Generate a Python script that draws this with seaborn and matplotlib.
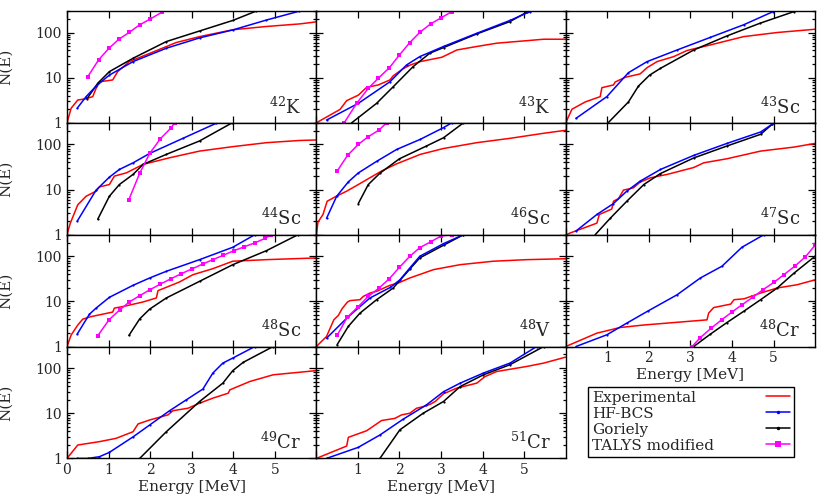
import matplotlib
matplotlib.use("Agg")
import matplotlib.pyplot as plt
import seaborn as sns
from matplotlib.lines import Line2D
from matplotlib.ticker import FixedLocator, FixedFormatter, LogLocator, NullFormatter

# ---------------- data (Energy [MeV], N(E)) ----------------
K42_EXP_E = [0, 0.1, 0.26, 0.45, 0.62, 0.7, 0.78, 1.1, 1.22, 1.5, 1.99, 2.63, 3.19, 3.99, 4.8, 5.6, 6.0]
K42_EXP_N = [1, 2.1, 3.2, 3.4, 3.8, 5.8, 8.1, 8.9, 13.6, 22.7, 34.5, 60, 81, 115, 136, 155, 172]
K42_HF_E = [0.245, 0.46, 0.7, 1.02, 1.59, 2.39, 3.19, 3.99, 4.8, 5.58]
K42_HF_N = [2.1, 3.8, 6.5, 11.4, 22.7, 44.8, 76, 114, 189, 295]
K42_GOR_E = [0.48, 0.74, 1.02, 1.59, 2.39, 3.19, 3.99, 4.56]
K42_GOR_N = [3.4, 7.5, 13.6, 26.9, 63, 108, 185, 300]
K42_TAL_E = [0.5, 0.76, 1.01, 1.25, 1.5, 1.75, 2.0, 2.28]
K42_TAL_N = [10.5, 24.7, 44.8, 71, 101, 148, 198, 280]

K43_EXP_E = [0, 0.57, 0.73, 1.01, 1.21, 1.49, 1.77, 1.85, 2.08, 2.26, 2.5, 3.02, 3.38, 3.86, 4.34, 5.07, 5.47, 6.0]
K43_EXP_N = [1, 1.98, 3.1, 4.1, 6.1, 6.9, 8.9, 11, 15.6, 19.1, 22.7, 28.3, 41, 49, 58, 66, 71, 71]
K43_HF_E = [0.245, 1.01, 1.77, 2.17, 2.49, 3.06, 3.86, 4.66, 5.14]
K43_HF_N = [1.15, 2.7, 8.1, 19.1, 29.3, 49, 96, 185, 290]
K43_GOR_E = [0.85, 1.45, 1.85, 2.33, 2.73, 3.06, 3.86, 4.66, 5.06]
K43_GOR_N = [1, 2.7, 6.3, 17.6, 34.8, 46.4, 93, 175, 280]
K43_TAL_E = [0.67, 0.97, 1.25, 1.49, 1.76, 2.0, 2.25, 2.49, 2.75, 2.99, 3.26]
K43_TAL_N = [1, 2.7, 5.8, 9.7, 16.7, 31.8, 60, 101, 155, 208, 290]

SC43_EXP_E = [0, 0.15, 0.47, 0.83, 0.87, 1.15, 1.19, 1.43, 1.79, 1.96, 2.2, 2.6, 2.92, 3.48, 4.28, 5.09, 6.0]
SC43_EXP_N = [1, 2.0, 2.9, 3.8, 6.0, 6.9, 8.0, 10.2, 12.1, 16.7, 22.7, 29.3, 40, 53, 81, 100, 118]
SC43_HF_E = [0.245, 0.99, 1.51, 1.96, 2.68, 3.48, 4.28, 4.99]
SC43_HF_N = [1.25, 3.8, 12.9, 22.7, 41, 78, 148, 290]
SC43_GOR_E = [1.02, 1.51, 1.75, 2.02, 2.28, 3.08, 3.88, 4.68, 5.49]
SC43_GOR_N = [1, 2.9, 6.5, 11.4, 16.1, 41, 84, 161, 290]

SC44_EXP_E = [0, 0.08, 0.26, 0.46, 0.7, 0.78, 1.02, 1.14, 1.43, 1.83, 2.47, 3.19, 3.99, 4.8, 5.6, 6.0]
SC44_EXP_N = [1, 1.8, 4.6, 7.1, 9.2, 11.4, 12.9, 19.8, 23.4, 36, 50.5, 71, 89, 109, 122, 125]
SC44_HF_E = [0.245, 0.7, 1.02, 1.26, 1.59, 1.99, 2.79, 3.59]
SC44_HF_N = [1.98, 9.7, 18.8, 27.8, 39, 63, 136, 293]
SC44_GOR_E = [0.74, 1.02, 1.26, 1.59, 1.83, 2.39, 3.19, 3.96]
SC44_GOR_N = [2.2, 7.1, 12.9, 21.6, 36, 60, 119, 295]
SC44_TAL_E = [1.49, 1.75, 1.99, 2.25, 2.51, 2.59]
SC44_TAL_N = [6.0, 23, 63, 134, 234, 300]

SC46_EXP_E = [0, 0.04, 0.16, 0.26, 0.48, 0.73, 1.01, 1.29, 1.57, 1.93, 2.5, 3.06, 3.86, 4.66, 5.47, 6.0]
SC46_EXP_N = [1, 1.9, 2.8, 5.5, 7.1, 9.2, 12.9, 18.2, 25.7, 37, 60, 81, 109, 136, 176, 205]
SC46_HF_E = [0.245, 0.49, 0.77, 1.01, 1.45, 1.93, 2.5, 3.06, 3.26]
SC46_HF_N = [2.3, 7.1, 14.8, 23.3, 42, 77, 129, 235, 300]
SC46_GOR_E = [1.01, 1.25, 1.53, 2.0, 2.65, 3.06, 3.54]
SC46_GOR_N = [4.9, 12.9, 23, 48, 92, 140, 300]
SC46_TAL_E = [0.5, 0.75, 1.01, 1.25, 1.51, 1.69]
SC46_TAL_N = [25.5, 57, 100, 148, 208, 300]

SC47_EXP_E = [0, 0.23, 0.75, 0.81, 1.11, 1.15, 1.27, 1.39, 1.63, 1.79, 2.04, 2.44, 3.08, 3.32, 3.88, 4.69, 5.49, 6.0]
SC47_EXP_N = [1, 1.2, 1.8, 2.8, 3.7, 5.5, 6.3, 9.7, 10.9, 14.6, 18.2, 21.6, 30.7, 39, 48, 71, 87, 105]
SC47_HF_E = [0.245, 0.75, 1.15, 1.47, 1.79, 2.28, 3.08, 3.88, 4.69, 4.97]
SC47_HF_N = [1.2, 2.8, 4.9, 9.2, 15.3, 27.8, 57, 105, 188, 280]
SC47_GOR_E = [0.71, 1.07, 1.47, 1.88, 2.28, 3.08, 3.88, 4.69, 4.97]
SC47_GOR_N = [1, 2.3, 5.5, 12.9, 22.6, 50, 92, 167, 280]

SC48_EXP_E = [0, 0.1, 0.26, 0.38, 0.58, 1.1, 1.14, 1.35, 1.83, 2.15, 2.19, 2.39, 2.71, 3.03, 3.51, 3.99, 4.8, 6.0]
SC48_EXP_N = [1, 1.8, 3.0, 4.05, 4.6, 5.8, 7.1, 7.7, 9.7, 11.9, 17.3, 20.5, 27, 39, 53, 77.6, 84, 91.6]
SC48_HF_E = [0.245, 0.54, 0.7, 1.02, 1.59, 1.99, 2.39, 3.19, 3.99, 4.52]
SC48_HF_N = [1.88, 5.2, 7.1, 12.3, 22.7, 33, 46.4, 84, 158, 300]
SC48_GOR_E = [1.49, 1.75, 1.99, 2.39, 3.19, 3.99, 4.8, 5.56]
SC48_GOR_N = [1.76, 4.1, 6.75, 11.9, 27.8, 65, 133, 300]
SC48_TAL_E = [0.74, 1.01, 1.27, 1.5, 1.75, 2.0, 2.25, 2.51, 2.75, 3.02, 3.27, 3.51, 3.76, 4.02, 4.26, 4.52, 4.76, 4.92]
SC48_TAL_N = [1.73, 3.9, 6.5, 9.7, 13.4, 18.2, 24.2, 32, 41, 53, 67.5, 84, 105, 133, 161, 198, 247, 300]

V48_EXP_E = [0, 0.245, 0.42, 0.53, 0.62, 0.75, 0.81, 1.05, 1.13, 1.29, 1.45, 1.77, 1.97, 2.25, 2.82, 3.46, 4.26, 5.07, 6.0]
V48_EXP_N = [1, 1.67, 3.9, 4.9, 6.9, 9.7, 10.4, 10.9, 12.9, 15.3, 16.7, 22.7, 25.5, 33, 50.5, 65, 77.6, 84, 88]
V48_HF_E = [0.245, 0.77, 1.29, 1.78, 2.01, 2.25, 2.49, 3.06, 3.54]
V48_HF_N = [1.53, 4.6, 11.9, 20.4, 30, 55, 100, 190, 300]
V48_GOR_E = [0.5, 0.77, 1.05, 1.45, 1.85, 2.25, 2.49, 3.06, 3.54]
V48_GOR_N = [1.1, 2.8, 5.5, 10.9, 19.8, 52, 92, 175, 300]
V48_TAL_E = [0.5, 0.74, 1.01, 1.25, 1.51, 1.76, 2.0, 2.25, 2.49, 2.75, 3.0, 3.26]
V48_TAL_N = [1.76, 4.4, 7.7, 12.9, 19.8, 32, 57, 100, 155, 208, 280, 300]

CR48_EXP_E = [0, 0.75, 1.31, 1.88, 3.4, 3.44, 3.56, 3.97, 4.05, 4.29, 4.69, 5.09, 5.57, 6.0]
CR48_EXP_N = [1, 1.98, 2.64, 3.0, 3.9, 5.5, 7.3, 8.7, 10.9, 11.4, 15.3, 19.8, 23.4, 30]
CR48_HF_E = [0.245, 0.99, 1.47, 1.99, 2.68, 3.24, 3.76, 4.24, 4.77]
CR48_HF_N = [1.0, 1.82, 3.3, 6.2, 14, 33, 60, 158, 300]
CR48_GOR_E = [3.08, 3.48, 3.88, 4.28, 4.69, 5.09, 5.49, 6.0]
CR48_GOR_N = [1, 1.88, 3.4, 6.0, 10.9, 19.8, 42, 100]
CR48_TAL_E = [3.04, 3.24, 3.5, 3.75, 4.0, 4.24, 4.5, 4.75, 5.01, 5.25, 5.51, 5.76, 6.0]
CR48_TAL_N = [1, 1.58, 2.55, 3.9, 5.8, 8.4, 12.3, 18.2, 26.4, 39, 60, 95, 175]

CR49_EXP_E = [0, 0.26, 0.78, 1.18, 1.59, 1.71, 1.99, 2.43, 2.55, 2.91, 3.19, 3.51, 3.88, 3.92, 4.4, 4.96, 5.6, 6.0]
CR49_EXP_N = [1, 1.98, 2.35, 2.78, 3.9, 5.8, 7.1, 9.2, 11.4, 12.9, 16.7, 21.6, 27.8, 33, 50.5, 71, 81, 88]
CR49_HF_E = [0.245, 0.5, 0.78, 1.02, 1.59, 1.99, 2.47, 2.87, 3.27, 3.51, 3.75, 3.99, 4.52]
CR49_HF_N = [1, 1, 1.09, 1.36, 3.0, 5.5, 11.4, 19.8, 34.3, 77.6, 129, 167, 300]
CR49_GOR_E = [1.75, 2.39, 3.19, 3.75, 3.99, 4.24, 4.96]
CR49_GOR_N = [1, 3.9, 18.2, 46.4, 88, 134, 300]

CR51_EXP_E = [0, 0.73, 0.77, 1.21, 1.57, 1.89, 2.05, 2.25, 2.41, 2.57, 2.74, 2.86, 3.06, 3.38, 3.86, 4.06, 4.34, 5.07, 5.47, 6.0]
CR51_EXP_N = [1, 1.88, 2.93, 4.1, 6.9, 7.7, 9.2, 10.0, 12.9, 14.0, 15.8, 18.2, 27, 36, 46.4, 65, 84, 109, 129, 175]
CR51_HF_E = [0.245, 1.01, 1.53, 2.09, 2.65, 3.06, 3.46, 4.02, 4.66, 5.3]
CR51_HF_N = [1.0, 1.76, 3.3, 7.4, 15.3, 30, 46.4, 77.6, 129, 300]
CR51_GOR_E = [1.53, 2.01, 2.57, 3.06, 3.46, 4.02, 4.66, 5.47]
CR51_GOR_N = [1, 4.3, 10, 18.2, 39, 71, 119, 300]

NUCLEI = ["$^{42}$K", "$^{43}$K", "$^{43}$Sc", "$^{44}$Sc", "$^{46}$Sc", "$^{47}$Sc",
          "$^{48}$Sc", "$^{48}$V", "$^{48}$Cr", "$^{49}$Cr", "$^{51}$Cr"]
SERIES_NAMES = ["Experimental", "HF-BCS", "Goriely", "TALYS modified"]
X_TICKS = [0, 1, 2, 3, 4, 5]
Y_TICKS = [1, 10, 100]
Y_TICK_LABELS = ["1", "10", "100"]

# ---------------- assemble per-panel series ----------------
PANELS = [
    {"Experimental": (K42_EXP_E, K42_EXP_N), "Goriely": (K42_GOR_E, K42_GOR_N),
     "HF-BCS": (K42_HF_E, K42_HF_N), "TALYS modified": (K42_TAL_E, K42_TAL_N)},
    {"Experimental": (K43_EXP_E, K43_EXP_N), "Goriely": (K43_GOR_E, K43_GOR_N),
     "HF-BCS": (K43_HF_E, K43_HF_N), "TALYS modified": (K43_TAL_E, K43_TAL_N)},
    {"Experimental": (SC43_EXP_E, SC43_EXP_N), "Goriely": (SC43_GOR_E, SC43_GOR_N),
     "HF-BCS": (SC43_HF_E, SC43_HF_N)},
    {"Experimental": (SC44_EXP_E, SC44_EXP_N), "Goriely": (SC44_GOR_E, SC44_GOR_N),
     "HF-BCS": (SC44_HF_E, SC44_HF_N), "TALYS modified": (SC44_TAL_E, SC44_TAL_N)},
    {"Experimental": (SC46_EXP_E, SC46_EXP_N), "Goriely": (SC46_GOR_E, SC46_GOR_N),
     "HF-BCS": (SC46_HF_E, SC46_HF_N), "TALYS modified": (SC46_TAL_E, SC46_TAL_N)},
    {"Experimental": (SC47_EXP_E, SC47_EXP_N), "Goriely": (SC47_GOR_E, SC47_GOR_N),
     "HF-BCS": (SC47_HF_E, SC47_HF_N)},
    {"Experimental": (SC48_EXP_E, SC48_EXP_N), "Goriely": (SC48_GOR_E, SC48_GOR_N),
     "HF-BCS": (SC48_HF_E, SC48_HF_N), "TALYS modified": (SC48_TAL_E, SC48_TAL_N)},
    {"Experimental": (V48_EXP_E, V48_EXP_N), "Goriely": (V48_GOR_E, V48_GOR_N),
     "HF-BCS": (V48_HF_E, V48_HF_N), "TALYS modified": (V48_TAL_E, V48_TAL_N)},
    {"Experimental": (CR48_EXP_E, CR48_EXP_N), "Goriely": (CR48_GOR_E, CR48_GOR_N),
     "HF-BCS": (CR48_HF_E, CR48_HF_N), "TALYS modified": (CR48_TAL_E, CR48_TAL_N)},
    {"Experimental": (CR49_EXP_E, CR49_EXP_N), "Goriely": (CR49_GOR_E, CR49_GOR_N),
     "HF-BCS": (CR49_HF_E, CR49_HF_N)},
    {"Experimental": (CR51_EXP_E, CR51_EXP_N), "Goriely": (CR51_GOR_E, CR51_GOR_N),
     "HF-BCS": (CR51_HF_E, CR51_HF_N)},
]

STYLE = {
    "Experimental": dict(color="#ff0000", lw=1.1),
    "HF-BCS": dict(color="#0000ff", lw=1.1, marker="o", markersize=1.6, markeredgewidth=0),
    "Goriely": dict(color="#000000", lw=1.1, marker="o", markersize=1.6, markeredgewidth=0),
    "TALYS modified": dict(color="#ff00ff", lw=1.1, marker="s", markersize=2.2, markeredgewidth=0),
}

# ---------------- style ----------------
sns.set_style("ticks")
plt.rcParams["font.family"] = ["DejaVu Serif"]
plt.rcParams["mathtext.fontset"] = "dejavuserif"
plt.rcParams["axes.linewidth"] = 1.0

fig, axes = plt.subplots(4, 3, figsize=(8.3, 4.98), dpi=100)
fig.subplots_adjust(left=0.0807, right=0.982, top=0.978, bottom=0.0795, wspace=0, hspace=0)
flat = axes.flatten()

for i, ax in enumerate(flat):
    if i >= len(PANELS):
        ax.set_axis_off()
        continue
    row, col = divmod(i, 3)
    ax.set_yscale("log")
    for name in ["Experimental", "Goriely", "HF-BCS", "TALYS modified"]:
        if name in PANELS[i]:
            E, N = PANELS[i][name]
            sns.lineplot(x=E, y=N, ax=ax, estimator=None, sort=False, legend=False, **STYLE[name])
    ax.set_xlim(0, 6)
    ax.set_ylim(1, 300)
    ax.yaxis.set_major_locator(FixedLocator(Y_TICKS))
    ax.yaxis.set_minor_locator(LogLocator(base=10, subs=[2, 3, 4, 5, 6, 7, 8, 9]))
    ax.yaxis.set_minor_formatter(NullFormatter())
    ax.xaxis.set_major_locator(FixedLocator(X_TICKS))
    ax.tick_params(which="both", direction="in", top=True, right=True, labelsize=10,
                   color="black", width=0.9)
    ax.tick_params(which="major", length=5)
    ax.tick_params(which="minor", length=2.5)
    ax.set_xlabel("")
    ax.set_ylabel("")
    if col == 0:
        ax.yaxis.set_major_formatter(FixedFormatter(Y_TICK_LABELS))
        ax.set_ylabel("N(E)", fontsize=11)
        ax.yaxis.set_label_coords(-0.215, 0.5)
    else:
        ax.tick_params(labelleft=False)
    bottom = (row == 3) or (i == 8)
    if bottom:
        labels = [str(t) for t in X_TICKS]
        if col != 0:
            labels[0] = ""
        ax.set_xticklabels(labels)
        ax.set_xlabel("Energy [MeV]", fontsize=11, labelpad=2)
    else:
        ax.tick_params(labelbottom=False)
    for s in ax.spines.values():
        s.set_visible(True)
        s.set_color("black")
    ax.text(0.94, 0.085, NUCLEI[i], transform=ax.transAxes, ha="right", va="baseline",
            fontsize=13)

# ---------------- legend ----------------
handles = [Line2D([], [], **STYLE[n]) for n in SERIES_NAMES]
handles[3].set_markersize(4.0)
handles[1].set_markersize(2.5)
handles[2].set_markersize(2.5)
leg = fig.legend(handles=handles, labels=SERIES_NAMES, loc="upper left",
                 bbox_to_anchor=(588 / 830, 1 - 387 / 498), markerfirst=False,
                 frameon=True, fancybox=False, edgecolor="black", framealpha=1,
                 fontsize=11, handlelength=1.6, handletextpad=3.4, labelspacing=0.13,
                 borderpad=0.25, borderaxespad=0)
leg.get_frame().set_linewidth(1.0)

fig.canvas.draw()
r = fig.canvas.get_renderer()
ws = [t.get_window_extent(r).width for t in leg.get_texts()]
maxw = max(ws)
rows = [rw for c in leg._legend_handle_box.get_children() for rw in c.get_children()]
for rw, w in zip(rows, ws):
    rw.sep = rw.sep + (maxw - w) * 72.0 / fig.dpi

fig.savefig("out.png", dpi=100)
